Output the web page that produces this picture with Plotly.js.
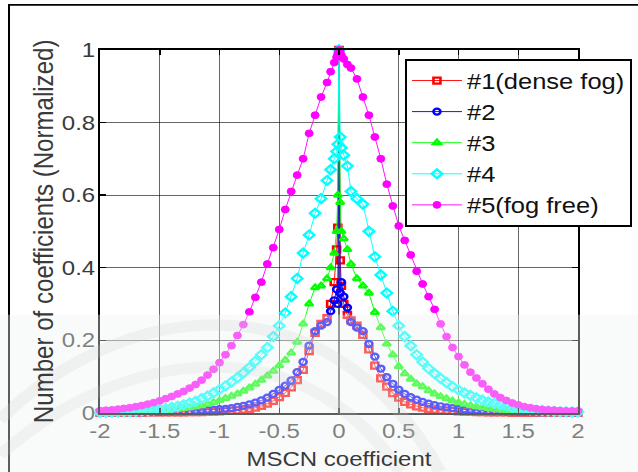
<!DOCTYPE html>
<html>
<head>
<meta charset="utf-8">
<script src="https://cdn.plot.ly/plotly-3.0.1.min.js"></script>
<style>
html,body{margin:0;padding:0;background:#fff;overflow:hidden;}
#wrap{width:638px;height:472px;overflow:hidden;position:relative;}
#plot{width:638px;height:549px;transform:scaleY(0.86);transform-origin:0 0;}
</style>
</head>
<body>
<div id="wrap"><div id="plot"></div></div>
<script>
// MSCN coefficient positions
const xs = [-2,-1.95,-1.9,-1.85,-1.8,-1.75,-1.7,-1.65,-1.6,-1.55,-1.5,-1.45,-1.4,-1.35,-1.3,-1.25,-1.2,-1.15,-1.1,-1.05,-1,-0.95,-0.9,-0.85,-0.8,-0.75,-0.7,-0.65,-0.6,-0.55,-0.5,-0.45,-0.4,-0.35,-0.3,-0.25,-0.2,-0.15,-0.1,
  -0.07,-0.04,-0.02,-0.01,0,0.01,0.02,0.04,0.07,
  0.1,0.15,0.2,0.25,0.3,0.35,0.4,0.45,0.5,0.55,0.6,0.65,0.7,0.75,0.8,0.85,0.9,0.95,1,1.05,1.1,1.15,1.2,1.25,1.3,1.35,1.4,1.45,1.5,1.55,1.6,1.65,1.7,1.75,1.8,1.85,1.9,1.95,2];

// #1 (dense fog)
const s1 = [0,0,0,0,0,0,0,0,0.001,0.001,0.001,0.001,0.001,0.001,0.001,0.002,0.002,0.002,0.003,0.003,0.004,0.005,0.006,0.007,0.009,0.011,0.014,0.019,0.025,0.033,0.043,0.055,0.07,0.09,0.118,0.17,0.22,0.245,0.26,
  0.30,0.36,0.45,0.51,1,0.42,0.35,0.30,0.27,
  0.255,0.24,0.215,0.175,0.13,0.095,0.072,0.054,0.042,0.03,0.023,0.018,0.014,0.011,0.009,0.007,0.006,0.005,0.004,0.003,0.003,0.002,0.002,0.001,0.001,0.001,0.001,0,0,0,0,0,0,0,0,0,0,0,0];
// #2
const s2 = [0,0,0,0.001,0.001,0.001,0.001,0.001,0.002,0.002,0.002,0.003,0.003,0.004,0.004,0.005,0.006,0.007,0.008,0.009,0.01,0.011,0.013,0.016,0.019,0.023,0.028,0.034,0.042,0.052,0.063,0.075,0.089,0.112,0.14,0.185,0.225,0.24,0.25,
  0.28,0.31,0.34,0.30,1,0.33,0.36,0.32,0.29,
  0.25,0.235,0.225,0.19,0.155,0.122,0.098,0.08,0.064,0.052,0.043,0.036,0.03,0.025,0.021,0.018,0.015,0.013,0.011,0.009,0.008,0.007,0.006,0.005,0.004,0.004,0.003,0.003,0.002,0.002,0.002,0.001,0.001,0.001,0.001,0.001,0,0,0];
// #3
const s3 = [0.001,0.001,0.001,0.002,0.002,0.002,0.003,0.003,0.004,0.005,0.006,0.007,0.008,0.01,0.012,0.014,0.017,0.02,0.024,0.029,0.034,0.04,0.046,0.052,0.06,0.069,0.079,0.09,0.102,0.115,0.13,0.145,0.165,0.195,0.245,0.30,0.345,0.35,0.37,
  0.40,0.44,0.50,0.60,1,0.58,0.50,0.48,0.45,
  0.41,0.37,0.35,0.33,0.277,0.235,0.19,0.16,0.128,0.108,0.093,0.08,0.072,0.061,0.052,0.045,0.039,0.033,0.028,0.024,0.02,0.017,0.014,0.012,0.01,0.008,0.007,0.006,0.005,0.004,0.003,0.003,0.002,0.002,0.002,0.001,0.001,0.001,0.001];
// #4
const s4 = [0.001,0.001,0.002,0.002,0.003,0.003,0.004,0.005,0.006,0.008,0.01,0.012,0.015,0.018,0.022,0.027,0.032,0.039,0.046,0.055,0.064,0.074,0.085,0.097,0.11,0.125,0.142,0.16,0.18,0.21,0.24,0.275,0.32,0.37,0.44,0.49,0.55,0.59,0.64,
  0.67,0.70,0.72,0.74,1,0.76,0.73,0.71,0.68,
  0.61,0.59,0.575,0.50,0.43,0.38,0.33,0.28,0.24,0.21,0.185,0.16,0.14,0.122,0.108,0.095,0.083,0.072,0.063,0.055,0.048,0.041,0.035,0.03,0.026,0.022,0.018,0.015,0.012,0.01,0.008,0.007,0.006,0.005,0.004,0.003,0.003,0.002,0.002];
// #5 (fog free)
const s5 = [0.006,0.007,0.008,0.01,0.012,0.014,0.017,0.02,0.024,0.028,0.033,0.039,0.045,0.052,0.059,0.068,0.078,0.09,0.104,0.12,0.138,0.16,0.185,0.213,0.243,0.278,0.318,0.36,0.41,0.455,0.505,0.56,0.61,0.655,0.70,0.77,0.82,0.87,0.91,
  0.94,0.965,0.98,0.99,1,0.995,0.985,0.975,0.96,
  0.95,0.92,0.87,0.82,0.76,0.70,0.63,0.57,0.515,0.475,0.435,0.39,0.355,0.32,0.285,0.245,0.21,0.18,0.155,0.132,0.112,0.096,0.08,0.065,0.052,0.042,0.034,0.027,0.022,0.017,0.014,0.011,0.009,0.008,0.007,0.006,0.005,0.005,0.005];

const seriesNames = ['#1(dense fog)','#2','#3','#4','#5(fog free)'];
const xTickVals = [-2,-1.5,-1,-0.5,0,0.5,1,1.5,2];
const xTickText = ['-2','-1.5','-1','-0.5','0','0.5','1','1.5','2'];
const yTickVals = [0,0.2,0.4,0.6,0.8,1];
const yTickText = ['0','0.2','0.4','0.6','0.8','1'];

const seriesData = [s1,s2,s3,s4,s5];
const colors = ['#ff0000','#0000ff','#00ff00','#00ffff','#ff00ff'];
const symbols = ['square-open','circle-open','triangle-up-open','diamond-open','circle'];
const msizes = [7,7,7,8,8];

const traces = seriesData.map((ys,i)=>({
  type:'scatter', mode:'lines+markers', x:xs, y:ys, name:seriesNames[i],
  line:{color:colors[i], width:1},
  marker:{symbol:symbols[i], size:msizes[i], color:colors[i], line:{color:colors[i], width:i===4?1:2.6}},
  cliponaxis:false
}));

// geometry helpers for decorative shapes (screen px -> paper)
const S = 0.86, L = 100, R = 578, T = 58.1, B = 480.2;
const px = x => (x - L)/(R - L);
const py = y => (B - y/S)/(B - T);
function path(pts){ // cubic: [x0,y0,c1x,c1y,c2x,c2y,x1,y1]
  return 'M'+px(pts[0])+','+py(pts[1])+' C'+px(pts[2])+','+py(pts[3])+' '+px(pts[4])+','+py(pts[5])+' '+px(pts[6])+','+py(pts[7]);
}

const font = 'Arial, "Liberation Sans", Helvetica, sans-serif';
const axisCommon = {
  ticks:'inside', ticklen:6, tickwidth:1.5, tickcolor:'#000',
  showline:true, linewidth:2, linecolor:'#000', mirror:'ticks',
  showgrid:true, gridcolor:'rgba(0,0,0,0.6)', gridwidth:1.2,
  zeroline:false, automargin:false,
  tickfont:{family:font, size:24, color:'#3a3a3a'}
};

const layout = {
  width:638, height:549,
  margin:{l:100, r:60, t:58, b:69, autoexpand:false},
  paper_bgcolor:'#fff', plot_bgcolor:'#fff',
  font:{family:font},
  xaxis:Object.assign({}, axisCommon, {
    range:[-2,2], tickmode:'array', tickvals:xTickVals, ticktext:xTickText,
    ticklabelstandoff:-1,
    title:{text:'MSCN coefficient', font:{family:font, size:24, color:'#3a3a3a'}, standoff:11}
  }),
  yaxis:Object.assign({}, axisCommon, {
    range:[0,1], tickmode:'array', tickvals:yTickVals, ticktext:yTickText,
    ticklabelstandoff:-2,
    title:{text:'Number of coefficients (Normalized)', font:{family:font, size:28, color:'#3a3a3a'}, standoff:0}
  }),
  showlegend:true,
  legend:{x:0.638, y:0.975, xanchor:'left', yanchor:'top', bgcolor:'#fff',
    bordercolor:'#000', borderwidth:2, itemwidth:50,
    font:{family:font, size:25.5, color:'#111'}},
  shapes:[
    {type:'rect', xref:'paper', yref:'paper', x0:px(9), x1:px(700), y0:py(700), y1:py(5),
     line:{color:'#000', width:2}, fillcolor:'rgba(0,0,0,0)', layer:'below'},
    {type:'path', xref:'paper', yref:'paper', path:path([0,420,120,300,330,270,440,472]),
     line:{color:'rgba(180,180,180,0.22)', width:13}, layer:'above'},
    {type:'path', xref:'paper', yref:'paper', path:path([0,455,120,350,300,320,400,472]),
     line:{color:'rgba(180,180,180,0.18)', width:13}, layer:'above'},
    {type:'rect', xref:'paper', yref:'paper', x0:px(-5), x1:px(700), y0:py(700), y1:py(315),
     line:{width:0}, fillcolor:'rgba(238,245,241,0.38)', layer:'above'}
  ]
};

Plotly.newPlot('plot', traces, layout, {displayModeBar:false, staticPlot:true});
</script>
</body>
</html>
